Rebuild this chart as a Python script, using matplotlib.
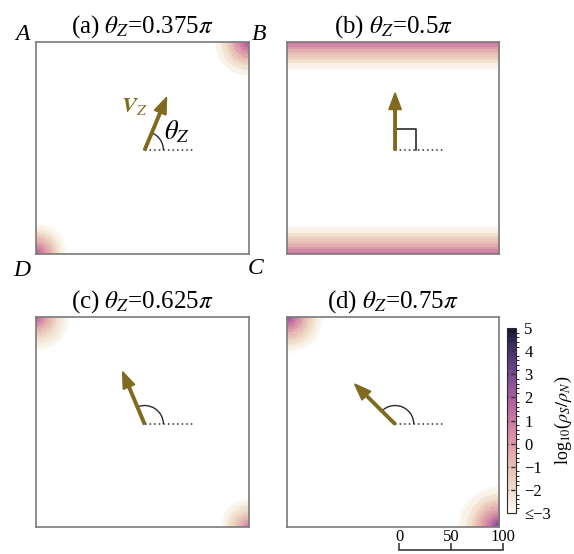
import numpy as np
import matplotlib
matplotlib.use("Agg")
import matplotlib.pyplot as plt
from matplotlib.colors import LinearSegmentedColormap, BoundaryNorm
from matplotlib.patches import Arc

plt.rcParams["font.family"] = ["Liberation Serif", "DejaVu Serif"]
plt.rcParams["mathtext.fontset"] = "stix"

# panel size in grid units, ring width of the decay profiles
L = 204
ring = 2.5

# log10(rho_S/rho_N), ring by ring from the corner / edge
prof_a_B = [2.2, 1.7, 1.2, 0.7, 0.2, -0.3, -0.8, -1.2, -1.6, -2.0, -2.3, -2.6, -2.8]
prof_a_D = [1.8, 1.3, 0.8, 0.3, -0.2, -0.7, -1.2, -1.6, -2.0, -2.4, -2.7, -2.9]
prof_b_edge = [1.0, 0.6, 0.1, -0.4, -0.8, -1.2, -1.6, -2.0, -2.4, -2.7, -2.9]
prof_c_A = [1.6, 1.1, 0.6, 0.1, -0.4, -0.9, -1.3, -1.7, -2.0, -2.3, -2.5, -2.7, -2.9]
prof_c_C = [0.8, 0.3, -0.2, -0.6, -1.0, -1.4, -1.8, -2.1, -2.4, -2.7, -2.9]
prof_d_A = [2.6, 2.0, 1.4, 0.9, 0.4, -0.1, -0.6, -1.0, -1.4, -1.8, -2.1, -2.4, -2.7, -2.9]
prof_d_C = [3.6, 2.8, 2.1, 1.5, 0.9, 0.4, -0.1, -0.5, -0.9, -1.3, -1.7, -2.0, -2.3, -2.6, -2.8, -2.9]

titles = [r"(a) $\theta_Z$=0.375$\pi$", r"(b) $\theta_Z$=0.5$\pi$",
          r"(c) $\theta_Z$=0.625$\pi$", r"(d) $\theta_Z$=0.75$\pi$"]
angles = [0.375, 0.5, 0.625, 0.75]  # in units of pi

cb_ticks = [-3, -2, -1, 0, 1, 2, 3, 4, 5]
cb_labels = ["≤−3", "−2", "−1", "0", "1", "2", "3", "4", "5"]
cmap_colors = ["#fbf8f2", "#efdcc8", "#e8bcb5", "#dd9aa8", "#cc7aa5",
               "#a8609f", "#7a4a90", "#4a3470", "#1c1a33"]

arrow_col = "#7f6a1f"
line_col = "#2a2a2a"

# corners: A top-left, B top-right, C bottom-right, D bottom-left
corners = {"A": (0, L), "B": (L, L), "C": (L, 0), "D": (0, 0)}

yy, xx = np.mgrid[0:L, 0:L] + 0.5


def add_profile(field, dist, prof):
    idx = (dist // ring).astype(int)
    vals = np.full(field.shape, -9.0)
    ok = idx < len(prof)
    vals[ok] = np.array(prof)[idx[ok]]
    return np.maximum(field, vals)


def corner_field(specs):
    f = np.full((L, L), -3.5)
    for c, prof in specs:
        cx, cy = corners[c]
        f = add_profile(f, np.hypot(xx - cx, yy - cy), prof)
    return f


fields = [
    corner_field([("B", prof_a_B), ("D", prof_a_D)]),
    add_profile(add_profile(np.full((L, L), -3.5), L - yy, prof_b_edge), yy, prof_b_edge),
    corner_field([("A", prof_c_A), ("C", prof_c_C)]),
    corner_field([("A", prof_d_A), ("C", prof_d_C)]),
]

levels = np.arange(-3, 5.001, 0.2)
cmap = LinearSegmentedColormap.from_list("rho", cmap_colors, N=len(levels) - 1)
cmap.set_under("white")
norm = BoundaryNorm(levels, cmap.N)

fig = plt.figure(figsize=(5.74, 5.54), dpi=100)
W, H = 574.0, 554.0
boxes = [(36, 42, 249, 254), (287, 42, 499, 254),
         (36, 317, 249, 527), (287, 317, 499, 527)]

for i, (x0, y0, x1, y1) in enumerate(boxes):
    ax = fig.add_axes([x0 / W, 1 - y1 / H, (x1 - x0) / W, (y1 - y0) / H])
    im = ax.imshow(fields[i], origin="lower", extent=[0, L, 0, L], cmap=cmap,
                   norm=norm, interpolation="nearest", aspect="auto")
    ax.set_xlim(0, L)
    ax.set_ylim(0, L)
    ax.set_xticks([])
    ax.set_yticks([])
    for s in ax.spines.values():
        s.set_color("#7a7a7a")
        s.set_linewidth(1.2)
    ax.set_title(titles[i], fontsize=18, pad=7)

    ox, oy = 104, 100
    th = angles[i] * np.pi
    alen = 55
    ax.plot([ox, ox + 46], [oy, oy], linestyle=(0, (1, 2)), color=line_col, lw=1.1)
    if angles[i] == 0.5:
        ax.plot([ox, ox + 20, ox + 20], [oy + 20, oy + 20, oy], color=line_col, lw=1.2)
    else:
        ax.add_patch(Arc((ox, oy), 36, 36, theta1=0, theta2=angles[i] * 180,
                         color=line_col, lw=1.0))
    ax.arrow(ox, oy, alen * np.cos(th), alen * np.sin(th), width=2.4,
             head_width=12, head_length=16, length_includes_head=True,
             color=arrow_col, zorder=5)
    if i == 0:
        ax.text(94, 142, r"$\boldsymbol{V}_Z$", color=arrow_col, fontsize=16,
                ha="center", va="center")
        ax.text(135, 118, r"$\theta_Z$", color="black", fontsize=19,
                ha="center", va="center")
        for lab, (px, py) in {"A": (22, 34), "B": (259, 34),
                              "C": (256, 268), "D": (22, 270)}.items():
            fig.text(px / W, 1 - py / H, lab, fontsize=17, style="italic",
                     ha="center", va="center")

# colorbar
cax = fig.add_axes([507 / W, 1 - 513 / H, 9 / W, 185 / H])
cb = fig.colorbar(im, cax=cax, ticks=cb_ticks)
cb.ax.set_yticklabels(cb_labels)
cb.ax.tick_params(length=0, pad=6, labelsize=12)
cb.outline.set_edgecolor(line_col)
cb.outline.set_linewidth(0.8)
cax.hlines(cb_ticks[1:], -3.5, 5, colors="#333333", linestyles=(0, (3, 2)),
           lw=1.0, transform=cax.get_yaxis_transform())
cb.set_label(r"log$_{10}$($\rho_S/\rho_N$)", fontsize=13, labelpad=1)

# scale bar
sax = fig.add_axes([399 / W, 1 - 550 / H, 104 / W, 5 / H])
sax.set_xlim(0, 100)
sax.set_ylim(0, 1)
sax.patch.set_visible(False)
for s in ["left", "right", "top"]:
    sax.spines[s].set_visible(False)
sax.spines["bottom"].set_color(line_col)
sax.spines["bottom"].set_linewidth(1.1)
sax.set_yticks([])
sax.set_xticks([0, 50, 100])
sax.tick_params(axis="x", direction="in", length=5, width=1.1, color=line_col,
                bottom=True, top=False, labelbottom=False, labeltop=True,
                labelsize=12, pad=0)

fig.savefig("out.png", dpi=100)
